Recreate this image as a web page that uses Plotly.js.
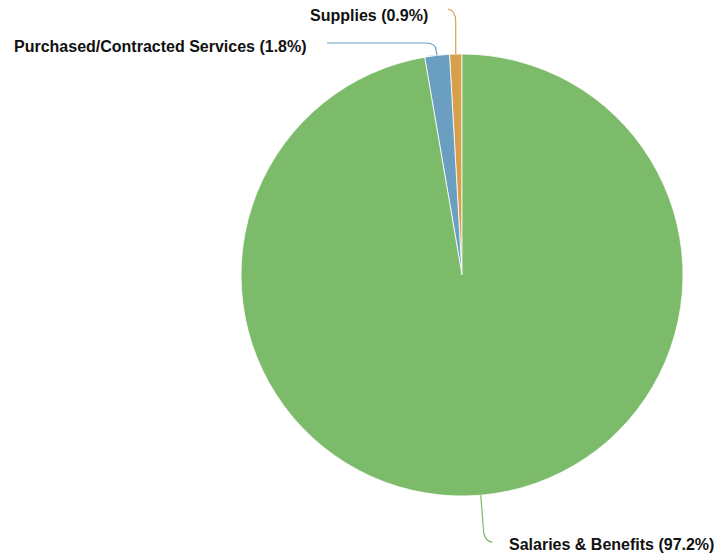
<!DOCTYPE html>
<html><head><meta charset="utf-8">
<script src="https://cdn.plot.ly/plotly-3.0.1.min.js"></script>
<style>body{margin:0;background:#fff}#c{width:719px;height:557px}</style>
</head><body><div id="c"></div>
<script>
const categories = ["Supplies", "Purchased/Contracted Services", "Salaries & Benefits"];
const percents = [0.9, 1.8, 97.2];
const colors = ["#d89f4b", "#6a9fc1", "#7cbb69"];

const W = 719, H = 557;
const M = {l: 241, r: 36, t: 54, b: 61};
const cx = M.l + (W - M.l - M.r) / 2, cy = M.t + (H - M.t - M.b) / 2;
const R = (H - M.t - M.b) / 2;
const px2x = p => (p - M.l) / (W - M.l - M.r);
const py2y = p => (H - M.b - p) / (H - M.t - M.b);

const total = percents.reduce((a, b) => a + b, 0);
let acc = 0;
const mids = percents.map(v => { const m = (acc + v / 2) / total * 2 * Math.PI; acc += v; return m; });
const edge = mids.map(a => [cx - R * Math.sin(a), cy - R * Math.cos(a)]);

const labelPos = [
  {x: 430, y: 15, xa: "right"},
  {x: 309, y: 46, xa: "right"},
  {x: 507, y: 544, xa: "left"}
];

const shapes = [];
{ const [ex, ey] = edge[0];
  shapes.push({path: `M${px2x(ex)},${py2y(ey)} L${px2x(ex)},${py2y(22)} Q${px2x(ex)},${py2y(10)} ${px2x(ex-8)},${py2y(9)}`}); }
{ const [ex, ey] = edge[1];
  shapes.push({path: `M${px2x(ex)},${py2y(ey)} L${px2x(ex-1)},${py2y(50)} Q${px2x(ex-1)},${py2y(43)} ${px2x(ex-12)},${py2y(43)} L${px2x(327)},${py2y(43)}`}); }
{ const [ex, ey] = edge[2];
  shapes.push({path: `M${px2x(ex)},${py2y(ey)} L${px2x(ex+3)},${py2y(533)} Q${px2x(ex+5)},${py2y(542)} ${px2x(ex+12)},${py2y(542)}`}); }
shapes.forEach((s, i) => { s.type = "path"; s.xref = "paper"; s.yref = "paper"; s.line = {color: colors[i], width: 1.2}; });

const annotations = categories.map((c, i) => ({
  xref: "paper", yref: "paper", x: px2x(labelPos[i].x), y: py2y(labelPos[i].y),
  xanchor: labelPos[i].xa, yanchor: "middle", showarrow: false,
  text: `<b>${c} (${percents[i]}%)</b>`,
  font: {family: "Liberation Sans, Arial, sans-serif", size: 16, color: "#111"}
}));

Plotly.newPlot("c", [{
  type: "pie", values: percents, labels: categories, sort: false,
  direction: "counterclockwise", rotation: -percents[0] / total * 360,
  marker: {colors: colors, line: {color: "#ffffff", width: 0.8}},
  textinfo: "none", hoverinfo: "label+percent", showlegend: false
}], {
  width: W, height: H, margin: M, paper_bgcolor: "#fff",
  shapes: shapes, annotations: annotations, showlegend: false
}, {displayModeBar: false, staticPlot: true});
</script></body></html>
